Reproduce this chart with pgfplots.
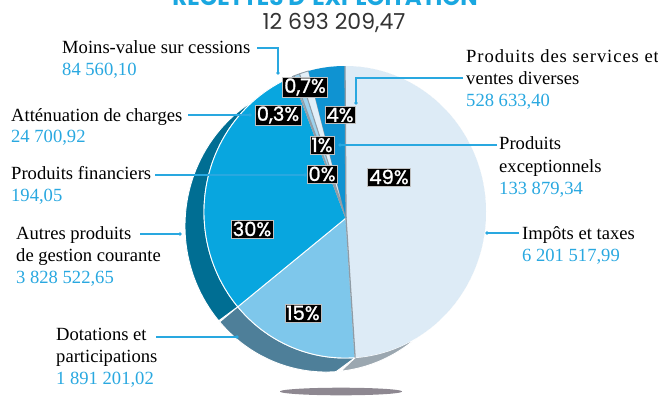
\documentclass[border=0pt]{standalone}
\usepackage{pgfplots}
\pgfplotsset{compat=1.18}
\usepackage{fontspec}
\setmainfont{Liberation Serif}
\newfontfamily\pop{Poppins}
\newfontfamily\popfb{Poppins}[FakeBold=1.3]
\definecolor{fImp}{HTML}{DDEBF6}
\definecolor{sImp}{HTML}{9BA7B0}
\definecolor{fDot}{HTML}{7EC7EB}
\definecolor{sDot}{HTML}{4E7F99}
\definecolor{fAut}{HTML}{08A6DF}
\definecolor{sAut}{HTML}{006E93}
\definecolor{fSer}{HTML}{0F93D2}
\definecolor{sSer}{HTML}{0A6E9A}
\definecolor{fFin}{HTML}{BFD9E8}
\definecolor{fAtt}{HTML}{CFE5F2}
\definecolor{fMV}{HTML}{9DD3EE}
\definecolor{fExc}{HTML}{E2EFF8}
\definecolor{edge}{HTML}{8F9CA6}
\definecolor{ldrblue}{RGB}{41,168,224}
\definecolor{valcol}{HTML}{29A8E0}
\definecolor{titlecol}{HTML}{1AA7E0}
\definecolor{numcol}{HTML}{333333}
\definecolor{shadow}{HTML}{8E8891}

% data (euros)
\def\vImp{6201517.99}
\def\vDot{1891201.02}
\def\vAut{3828522.65}
\def\vFin{194.05}
\def\vAtt{24700.92}
\def\vMV{84560.10}
\def\vExc{133879.34}
\def\vSer{528633.40}
\edef\vTot{\fpeval{\vImp+\vDot+\vAut+\vFin+\vAtt+\vMV+\vExc+\vSer}}
\edef\aA{0}
\edef\aB{\fpeval{round(360*\vImp/\vTot,4)}}
\edef\aC{\fpeval{round(\aB+360*\vDot/\vTot,4)}}
\edef\aD{\fpeval{round(\aC+360*\vAut/\vTot,4)}}
\edef\aE{\fpeval{round(\aD+360*\vFin/\vTot,4)}}
\edef\aF{\fpeval{round(\aE+360*\vAtt/\vTot,4)}}
\edef\aG{\fpeval{round(\aF+360*\vMV/\vTot,4)}}
\edef\aH{\fpeval{round(\aG+360*\vExc/\vTot,4)}}
\edef\aI{360}

% geometry (pixels, y downwards)
\def\cx{345}\def\cy{212}\def\rx{141}\def\ry{146}
\def\ax{346}\def\ay{218}
\def\ox{(-19)}\def\oy{14}

\newcommand\face[4]{%
  \addplot[fill=#3, draw=#4, line width=0.9pt, line join=round, domain=#1:#2, samples=90, variable=\t]
   ({\cx+\rx*sin(\t)},{\cy-\ry*cos(\t)}) -- (axis cs:\ax,\ay) -- cycle;}
\newcommand\band[3]{%
  \addplot[fill=#3, draw=white, line width=0.9pt, domain=0:2, samples=181, variable=\t]
   ({\cx+\rx*sin(#1+(#2-#1)*min(\t,2-\t))+\ox*(\t>1)},{\cy-\ry*cos(#1+(#2-#1)*min(\t,2-\t))+\oy*(\t>1)}) -- cycle;}
\newcommand\radial[2]{%
  \draw[draw=#2, line width=1.3pt] (axis cs:\ax,\ay) -- (axis cs:{\fpeval{\cx+\rx*sind(#1)}},{\fpeval{\cy-\ry*cosd(#1)}});}

\newcommand\labfont{\fontsize{18.6}{22}\selectfont}
\newcommand\lbl[3]{\node[anchor=base west, inner sep=0pt, font=\labfont, text=black] at (axis cs:#1,#2) {#3};}
\newcommand\val[3]{\node[anchor=base west, inner sep=0pt, font=\labfont, text=valcol] at (axis cs:#1,#2) {#3};}
\newcommand\pct[3]{\node[fill=black, draw=white!75!black, line width=0.5pt, text=white, inner sep=1.6pt, font=\popfb\fontsize{19.5}{19.5}\selectfont] at (axis cs:#1,#2) {#3};}
\newcommand\dotat[2]{\fill[fill=ldrblue] (axis cs:#1,#2) circle[radius=1.8pt];}
\newcommand\ldr[1]{\path[draw=ldrblue, color=ldrblue, line width=1.1pt] #1;}

\begin{document}
\begin{tikzpicture}
\begin{axis}[
  x=1pt, y=1pt, xmin=0, xmax=658, ymin=0, ymax=400,
  y dir=reverse, enlargelimits=false, hide axis, clip=false,
]
\coordinate (BL) at (axis cs:0,400);
\coordinate (TR) at (axis cs:658,0);

% shadow
\addplot[fill=shadow, draw=none, domain=0:360, samples=90, variable=\t]
  ({341+61*cos(\t)},{391.5+3.8*sin(\t)}) -- cycle;

% sides
\band{\aH}{\aI}{sSer}
\band{\aA}{\aB}{sImp}
\band{\aB}{\aC}{sDot}
\band{\aC}{\aD}{sAut}

% faces
\face{\aA}{\aB}{fImp}{none}
\face{\aB}{\aC}{fDot}{white}
\face{\aC}{\aD}{fAut}{white}
\face{\aD}{\aE}{fFin}{edge}
\face{\aE}{\aF}{fAtt}{edge}
\face{\aF}{\aG}{fMV}{edge}
\face{\aG}{\aH}{fExc}{edge}
\face{\aH}{\aI}{fSer}{none}
\radial{\aA}{edge}
\radial{\aB}{edge}

% titles
\node[anchor=base, font=\pop\bfseries\fontsize{23}{23}\selectfont, text=titlecol] at (axis cs:325,5) {RECETTES D’EXPLOITATION};
\node[anchor=base, font=\pop\fontsize{22}{22}\selectfont, text=numcol] at (axis cs:334,29) {12 693 209,47};

% leader lines
\ldr{(axis cs:257,48) -- (axis cs:278,48) -- (axis cs:278,73)} \dotat{278}{73}
\ldr{(axis cs:188,115) -- (axis cs:250,115)} \dotat{250}{115}
\ldr{(axis cs:155,175) -- (axis cs:305,175)} \dotat{305}{175}
\ldr{(axis cs:140,234) -- (axis cs:180,234)} \dotat{180}{234}
\ldr{(axis cs:156,337) -- (axis cs:237,337)} \dotat{237}{337}
\ldr{(axis cs:463,78) -- (axis cs:356,78) -- (axis cs:356,103)} \dotat{356}{103}
\ldr{(axis cs:497,145) -- (axis cs:340,145)} \dotat{340}{145}
\ldr{(axis cs:519,233) -- (axis cs:487,233)} \dotat{487}{233}

% percent boxes
\pct{305}{87}{0,7\%}
\pct{278}{115}{0,3\%}
\pct{340}{115}{4\%}
\pct{322}{145}{1\%}
\pct{322}{174}{0\%}
\pct{389}{177}{49\%}
\pct{252}{229}{30\%}
\pct{303}{313}{15\%}

% labels
\lbl{62}{53}{Moins-value sur cessions}
\val{62}{75}{84 560,10}
\lbl{11}{121}{Atténuation de charges}
\val{11}{142}{24 700,92}
\lbl{11}{179}{Produits financiers}
\val{11}{201}{194,05}
\lbl{16}{239}{Autres produits}
\lbl{16}{261}{de gestion courante}
\val{16}{283}{3 828 522,65}
\lbl{56}{340}{Dotations et}
\lbl{56}{362}{participations}
\val{56}{384}{1 891 201,02}
\node[anchor=base west, inner sep=0pt, font=\labfont\addfontfeatures{LetterSpace=5}, text=black] at (axis cs:466,62) {Produits des services et};
\lbl{466}{84}{ventes diverses}
\val{466}{106}{528 633,40}
\lbl{499}{149}{Produits}
\lbl{499}{172}{exceptionnels}
\val{499}{194}{133 879,34}
\lbl{522}{239}{Impôts et taxes}
\val{522}{261}{6 201 517,99}
\end{axis}
\pgfresetboundingbox
\path[use as bounding box] (BL) rectangle (TR);
\end{tikzpicture}
\end{document}
